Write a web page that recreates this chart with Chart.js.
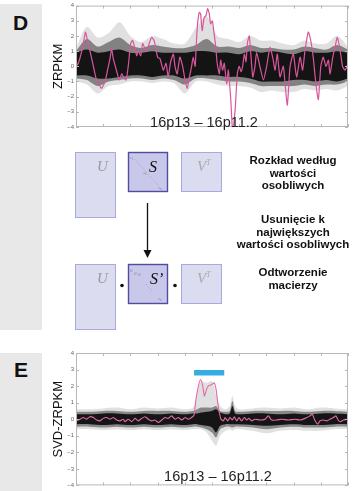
<!DOCTYPE html>
<html>
<head>
<meta charset="utf-8">
<script src="https://cdn.jsdelivr.net/npm/chart.js@4.4.1/dist/chart.umd.min.js"></script>
<style>
  body { margin: 0; width: 354px; height: 491px; position: relative; overflow: hidden; background: #fff;
         font-family: "Liberation Sans", Arial, sans-serif; color: #111; }
  .panel { position: absolute; left: 0; width: 42px; background: #e8e8e8; }
  .letter { position: absolute; font-weight: bold; font-size: 21px; line-height: 21px; }
  canvas { position: absolute; }
  .region { position: absolute; width: 140px; text-align: center; font-size: 14.5px; line-height: 17px; color: #222; }
  .step { position: absolute; left: 232px; width: 122px; text-align: center; font-weight: bold;
          font-size: 11.5px; line-height: 12.6px; }
  svg { position: absolute; left: 0; top: 0; }
</style>
</head>
<body>
<div class="panel" style="top:4px;height:326px"></div>
<div class="panel" style="top:353px;height:138px"></div>
<div class="letter" style="left:13px;top:12px">D</div>
<div class="letter" style="left:14px;top:359px">E</div>

<canvas id="chartD" width="310" height="135" style="left:44px;top:0"></canvas>
<canvas id="chartE" width="310" height="146" style="left:44px;top:345px"></canvas>

<div class="region" style="left:134px;top:114px">16p13 – 16p11.2</div>
<div class="region" style="left:148px;top:468px">16p13 – 16p11.2</div>

<!-- SVD schematic -->
<svg width="354" height="491">
  <g font-family="Liberation Serif, serif" font-style="italic">
    <rect x="75.5" y="152.5" width="40" height="65" fill="#dcdcf1" stroke="#aaa9dd"/>
    <rect x="128.5" y="152.5" width="39" height="39" fill="#c9c8ea" stroke="#4e4da0" stroke-width="1.4"/>
    <rect x="181.5" y="152.5" width="40" height="39" fill="#dcdcf1" stroke="#aaa9dd"/>
    <text x="97" y="171" font-size="15" fill="#9a9a9a">U</text>
    <text x="149" y="172" font-size="16" fill="#111">S</text>
    <text x="197" y="171" font-size="15" fill="#aaa">V<tspan font-size="8" dy="-6">T</tspan></text>
    <line x1="134" y1="159" x2="158" y2="185" stroke="#999" stroke-width="0.8" stroke-dasharray="1 1.6"/>
    <text x="129.5" y="159" font-size="5" fill="#888">s<tspan font-size="3.5" dy="1">1</tspan></text>
    <text x="143" y="174" font-size="5" fill="#888">s<tspan font-size="3.5" dy="1">k</tspan></text>
    <text x="158" y="189" font-size="5" fill="#888">s<tspan font-size="3.5" dy="1">n</tspan></text>

    <line x1="147.5" y1="203" x2="147.5" y2="251" stroke="#111" stroke-width="1.3"/>
    <polygon points="143.5,250 151.5,250 147.5,258" fill="#111"/>

    <rect x="75.5" y="264.5" width="40" height="65" fill="#dcdcf1" stroke="#aaa9dd"/>
    <rect x="128.5" y="264.5" width="39" height="39" fill="#c9c8ea" stroke="#4e4da0" stroke-width="1.4"/>
    <rect x="181.5" y="264.5" width="40" height="39" fill="#dcdcf1" stroke="#aaa9dd"/>
    <circle cx="122" cy="285.5" r="1.8" fill="#111"/>
    <circle cx="175" cy="285.5" r="1.8" fill="#111"/>
    <text x="97" y="283" font-size="15" fill="#9a9a9a">U</text>
    <text x="150" y="284" font-size="16" fill="#111">S’</text>
    <text x="197" y="283" font-size="15" fill="#aaa">V<tspan font-size="8" dy="-6">T</tspan></text>
    <text x="130" y="272" font-size="5" fill="#888">0</text>
    <text x="134" y="275" font-size="5" fill="#888">0</text>
    <text x="138" y="276" font-size="5" fill="#888">0</text>
    <line x1="146" y1="284" x2="153" y2="292" stroke="#999" stroke-width="0.8" stroke-dasharray="1 1.6"/>
    <text x="158" y="300" font-size="5" fill="#888">s<tspan font-size="3.5" dy="1">n</tspan></text>
  </g>
</svg>

<div class="step" style="top:154px">Rozkład według<br>wartości<br>osobliwych</div>
<div class="step" style="top:213px">Usunięcie k<br>największych<br>wartości osobliwych</div>
<div class="step" style="top:266px">Odtworzenie<br>macierzy</div>

<script>
// Position along 16p13 - 16p11.2 is given as percent of the plotted region (0-100)
const yTicks = [-4, -3, -2, -1, 0, 1, 2, 3, 4];

// Panel D: ZRPKM, envelope of the sample traces
const bandXD = [0, 4, 8, 12, 16, 20, 24, 28, 32, 36, 40, 44, 48, 52, 56, 60, 64, 68, 72, 76, 80, 84, 88, 92, 96, 100];
const outerHiD = [1.2, 2.6, 1.9, 2.2, 2.9, 2.0, 1.6, 2.0, 1.8, 1.5, 1.5, 2.5, 3.3, 2.0, 1.8, 1.6, 2.0, 1.7, 1.7, 1.5, 1.4, 1.7, 1.5, 1.5, 2.0, 1.3];
const midHiD = [1.0, 1.8, 1.3, 1.6, 1.9, 1.4, 1.2, 1.4, 1.3, 1.2, 1.2, 1.4, 1.8, 1.3, 1.3, 1.2, 1.4, 1.2, 1.2, 1.1, 1.1, 1.3, 1.2, 1.1, 1.4, 1.1];
const coreHiD = [0.9, 1.1, 0.9, 1.0, 1.1, 0.9, 0.9, 1.0, 0.9, 0.9, 0.9, 1.0, 1.0, 0.9, 0.9, 0.8, 1.0, 0.9, 1.0, 0.9, 0.8, 1.0, 0.9, 0.9, 1.0, 0.9];
const coreLoD = [-0.6, -0.6, -0.8, -0.8, -0.7, -0.6, -0.6, -0.7, -0.6, -0.6, -0.8, -0.6, -0.6, -0.6, -0.7, -0.7, -0.8, -1.0, -1.0, -1.0, -0.9, -0.9, -1.0, -0.9, -1.0, -0.8];
const midLoD = [-0.8, -0.9, -1.3, -1.0, -0.9, -0.8, -0.8, -0.9, -0.8, -0.9, -1.2, -0.8, -0.8, -0.9, -1.0, -1.0, -1.1, -1.3, -1.3, -1.3, -1.3, -1.2, -1.3, -1.2, -1.2, -1.0];
const outerLoD = [-1.0, -1.2, -1.8, -1.3, -1.2, -1.0, -1.0, -1.1, -1.0, -1.1, -1.8, -1.0, -1.0, -1.2, -1.3, -1.3, -1.4, -1.7, -1.6, -1.7, -1.7, -1.5, -1.6, -1.5, -1.6, -1.3];

// Panel D: highlighted sample
const pinkXD = [0, 0.85, 2.1, 3.3, 3.5, 4.5, 5.4, 6.4, 7.4, 8.6, 9.4, 10.7, 11.7, 12.5, 13.1, 13.7, 15.0, 15.9, 16.8, 17.4,
  18.4, 19.2, 20.1, 20.8, 21.7, 22.3, 22.9, 23.8, 24.5, 25.4, 26.0, 26.9, 27.8, 28.7, 29.4, 30.0, 30.9, 32.1, 33.1, 33.9,
  34.8, 35.8, 36.4, 37.2, 38.2, 39.2, 40.1, 40.9, 41.7, 42.5, 43.1, 43.8, 44.1, 44.6, 45.3, 45.8, 46.4, 47.1, 47.8, 48.4,
  49.0, 49.5, 50.1, 50.7, 51.4, 51.9, 52.7, 53.2, 53.9, 54.5, 55.4, 56.0, 56.9, 57.6, 58.5, 58.8, 59.3, 60.0, 60.7, 61.3,
  61.9, 62.5, 63.0, 63.7, 64.2, 65.0, 65.8, 66.4, 67.6, 68.9, 70.1, 71.3, 72.3, 73.2, 74.0, 75.0, 76.2, 76.8, 77.7, 78.7,
  79.9, 81.1, 82.4, 83.3, 84.2, 85.4, 86.3, 87.2, 88.2, 89.1, 90.0, 90.9, 91.9, 92.8, 93.4, 94.4, 95.2, 96.1, 97.1, 98.0,
  98.9, 100];
const pinkYD = [0, 0.2, 1.0, 2.1, 2.25, 1.5, 0.8, 0, -0.8, -1.25, -1.45, -1.0, -0.15, 0.5, 1.15, 0.5, -0.35, -0.9, -0.5, -0.7,
  -0.9, 0, 1.5, 1.7, 1.15, 0.7, 1.0, 0.7, 1.5, 1.15, 1.0, 1.5, 1.9, 1.7, 1.15, 0.6, 0.5, -0.25, 0.2, -0.7,
  0.3, 0.8, 0, -0.5, 0.6, 0, -0.9, -1.45, -0.7, 0, 0.6, 0, 1.0, 2.6, 3.55, 3.45, 2.35, 3.2, 3.35, 3.8,
  3.45, 2.8, 3.0, 2.25, 1.25, 0.2, -0.5, 0.4, -0.25, 0.2, -1.15, -0.25, -2.2, -4.3, -2.9, -2.0, -0.5, 0, -0.35, 0.05,
  0.8, 0.3, 1.5, 2.0, 1.0, -0.7, 0, 0.9, 0, -0.9, 0, 1.25, 0.6, -0.25, 0.8, -0.7, 0, -1.0, -2.55, 0,
  0.8, -0.7, 0.6, -0.25, 1.05, 2.25, 1.7, 0.6, -1.15, -2.2, 0, 0.6, 0, 0.4, -0.5, 0.6, 1.25, 1.9, 1.05, 0,
  -0.25, 0.15];

// Panel E: SVD-ZRPKM, envelope of the sample traces
const bandXE = [0, 5, 10, 15, 20, 25, 30, 35, 40, 43, 44.5, 46, 48, 50, 51.5, 53, 55, 56.5, 57.5, 58.5, 60, 65, 70, 75, 80, 85, 90, 95, 100];
const outerHiE = [0.6, 0.6, 0.65, 0.7, 0.6, 0.7, 0.65, 0.7, 0.6, 0.7, 1.5, 2.3, 2.2, 2.3, 1.5, 0.8, 0.6, 0.8, 1.4, 0.8, 0.6, 0.65, 0.7, 0.65, 0.7, 0.6, 0.7, 0.65, 0.6];
const midHiE = [0.45, 0.45, 0.5, 0.5, 0.45, 0.5, 0.5, 0.5, 0.45, 0.5, 0.6, 0.7, 0.7, 0.7, 0.8, 0.5, 0.45, 0.5, 1.1, 0.5, 0.45, 0.5, 0.5, 0.5, 0.5, 0.45, 0.5, 0.5, 0.45];
const coreHiE = [0.3, 0.3, 0.35, 0.35, 0.3, 0.35, 0.3, 0.35, 0.3, 0.35, 0.35, 0.4, 0.45, 0.5, 0.6, 0.4, 0.3, 0.35, 0.8, 0.35, 0.3, 0.35, 0.35, 0.3, 0.35, 0.3, 0.35, 0.35, 0.3];
const coreLoE = [-0.3, -0.3, -0.35, -0.3, -0.35, -0.3, -0.35, -0.3, -0.35, -0.3, -0.3, -0.35, -0.4, -0.5, -0.8, -0.4, -0.3, -0.3, -0.3, -0.3, -0.3, -0.35, -0.4, -0.35, -0.3, -0.35, -0.35, -0.3, -0.3];
const midLoE = [-0.45, -0.45, -0.5, -0.45, -0.5, -0.45, -0.5, -0.45, -0.5, -0.45, -0.45, -0.5, -0.6, -0.8, -1.1, -0.6, -0.45, -0.45, -0.5, -0.45, -0.45, -0.5, -0.6, -0.5, -0.45, -0.5, -0.5, -0.45, -0.45];
const outerLoE = [-0.6, -0.6, -0.65, -0.6, -0.65, -0.6, -0.65, -0.6, -0.65, -0.6, -0.6, -0.6, -0.8, -1.3, -1.6, -1.0, -0.7, -0.6, -0.7, -0.6, -0.6, -0.7, -0.85, -0.7, -0.65, -0.7, -0.7, -0.6, -0.6];

// Panel E: highlighted sample
const pinkXE = [0, 1.5, 2.7, 3.9, 5.1, 6.4, 7.6, 8.8, 10.0, 11.3, 12.5, 13.7, 15.0, 16.2, 17.4, 18.0, 19.2, 20.5, 21.7, 22.9,
  24.2, 25.4, 26.6, 27.8, 29.0, 30.3, 31.5, 32.7, 33.9, 35.2, 36.4, 37.6, 38.9, 40.1, 41.3, 42.5, 43.4, 44.1, 45.0, 45.8,
  46.6, 47.2, 48.0, 48.6, 49.9, 50.8, 51.5, 52.1, 52.7, 53.3, 54.2, 54.8, 55.8, 56.6, 57.5, 58.2, 59.1, 59.9, 60.9, 61.9,
  62.8, 63.6, 64.6, 65.8, 67.6, 69.5, 70.7, 71.9, 73.8, 75.6, 78.1, 80.5, 82.4, 84.2, 86.0, 86.9, 87.9, 88.9, 89.7, 90.9,
  92.2, 93.4, 94.6, 95.6, 96.2, 97.1, 98.3, 99.5];
const pinkYE = [-0.1, 0, 0.1, 0, 0.15, 0.1, -0.05, -0.1, 0.05, 0.1, 0, 0.1, -0.05, -0.1, 0, -0.15, 0, -0.15, 0.05, -0.1,
  0.05, 0.15, 0, -0.1, -0.05, -0.2, -0.05, 0.1, 0.05, 0.2, 0, 0.1, -0.05, 0.1, 0, 0.1, 0.25, 1.2, 2.0, 2.4,
  2.0, 1.4, 1.8, 2.0, 2.1, 2.2, 1.8, 1.0, 0.4, 0, -0.1, 0.1, -0.1, 0.1, -0.05, 0.15, -0.1, 0.1, -0.1, 0.1,
  -0.05, 0.05, -0.1, 0, -0.05, 0, 0.2, -0.05, -0.05, 0, -0.05, 0, -0.05, 0.05, 0.2, 0.3, -0.1, -0.3, -0.1, -0.05,
  -0.1, 0, 0.1, 0.2, 0, -0.15, -0.05, 0];

// Deletion call (blue bar)
const callX = [43.4, 54.5];
const callY = [2.8, 2.8];

function pts(xs, ys) {
  return xs.map((x, i) => ({x: x, y: ys[i]}));
}

function band(xs, hi, lo, color) {
  return [
    {data: pts(xs, hi), fill: '+1', backgroundColor: color, borderWidth: 0, pointRadius: 0, tension: 0.3},
    {data: pts(xs, lo), fill: false, borderWidth: 0, pointRadius: 0, tension: 0.3}
  ];
}

// matlab style box with inward ticks
const frame = {
  id: 'frame',
  afterDraw(chart) {
    const {ctx, chartArea: a, scales} = chart;
    ctx.save();
    ctx.strokeStyle = '#b8b8b8';
    ctx.lineWidth = 1;
    ctx.strokeRect(a.left + 0.5, a.top + 0.5, a.width - 1, a.height - 1);
    ctx.beginPath();
    scales.y.ticks.forEach(t => {
      const y = Math.round(scales.y.getPixelForValue(t.value)) + 0.5;
      ctx.moveTo(a.left, y); ctx.lineTo(a.left + 3, y);
      ctx.moveTo(a.right, y); ctx.lineTo(a.right - 3, y);
    });
    scales.x.ticks.forEach(t => {
      const x = Math.round(scales.x.getPixelForValue(t.value)) + 0.5;
      ctx.moveTo(x, a.top); ctx.lineTo(x, a.top + 3);
      ctx.moveTo(x, a.bottom); ctx.lineTo(x, a.bottom - 3);
    });
    ctx.stroke();
    ctx.restore();
  }
};

function makeChart(id, datasets, title, padTop, padBottom) {
  return new Chart(document.getElementById(id), {
    type: 'line',
    data: {datasets: datasets},
    options: {
      responsive: false,
      animation: false,
      layout: {padding: {left: 0, right: 6, top: padTop, bottom: padBottom}},
      plugins: {legend: {display: false}, tooltip: {enabled: false}},
      scales: {
        x: {
          type: 'linear', min: 0, max: 100,
          ticks: {display: false, stepSize: 10},
          grid: {display: false, drawTicks: false},
          border: {display: false},
          afterFit: s => { s.height = 0; }
        },
        y: {
          min: -4, max: 4,
          afterBuildTicks: s => { s.ticks = yTicks.map(v => ({value: v})); },
          ticks: {
            font: {size: 6, family: 'Liberation Sans'}, color: '#666', padding: 2,
            callback: v => String(v).replace('-', '\u2212')
          },
          grid: {display: false, drawTicks: false},
          border: {display: false},
          title: {display: true, text: title, color: '#111',
                  font: {size: 13, family: 'Liberation Sans'}, padding: {top: 7, bottom: 0}},
          afterFit: s => { s.width = 32; }
        }
      }
    },
    plugins: [frame]
  });
}

makeChart('chartD', [
  {data: pts(pinkXD, pinkYD), borderColor: '#d9559c', borderWidth: 1.2, pointRadius: 0, tension: 0.2, fill: false},
  ...band(bandXD, outerHiD, outerLoD, 'rgba(0,0,0,0.12)'),
  ...band(bandXD, midHiD, midLoD, 'rgba(0,0,0,0.42)'),
  ...band(bandXD, coreHiD, coreLoD, 'rgba(0,0,0,0.85)')
], 'ZRPKM', 5, 8);

makeChart('chartE', [
  {data: pts(pinkXE, pinkYE), borderColor: '#e06aa8', borderWidth: 1.1, pointRadius: 0, tension: 0.2, fill: false},
  {data: pts(callX, callY), borderColor: '#35ade2', borderWidth: 5.5, borderCapStyle: 'butt', pointRadius: 0, fill: false},
  ...band(bandXE, outerHiE, outerLoE, 'rgba(0,0,0,0.12)'),
  ...band(bandXE, midHiE, midLoE, 'rgba(0,0,0,0.4)'),
  ...band(bandXE, coreHiE, coreLoE, 'rgba(0,0,0,0.85)')
], 'SVD-ZRPKM', 8, 4);
</script>
</body>
</html>
